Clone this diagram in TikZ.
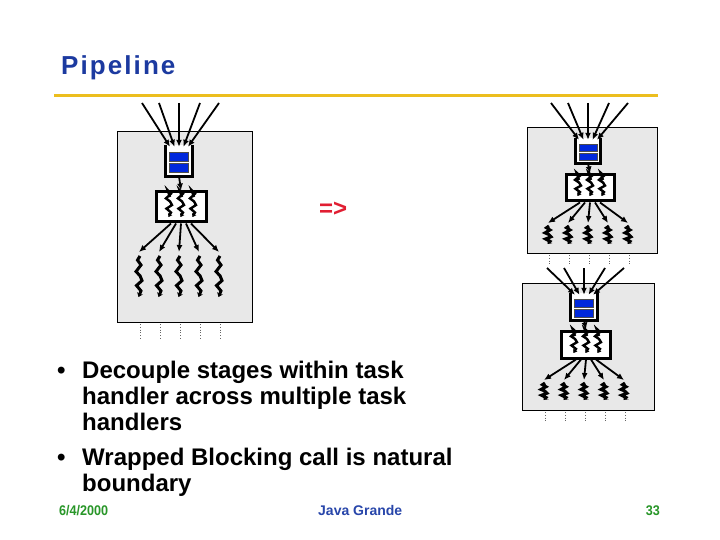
\documentclass[tikz,border=0pt]{standalone}
\usepackage{fontspec}
\setmainfont{Liberation Sans}
\usetikzlibrary{arrows.meta}
\definecolor{titleblue}{RGB}{28,58,160}
\definecolor{rulegold}{RGB}{236,190,30}
\definecolor{panelgrey}{RGB}{232,232,232}
\definecolor{qblue}{RGB}{0,40,220}
\definecolor{arrowred}{RGB}{225,30,50}
\definecolor{footgreen}{RGB}{40,150,40}
\definecolor{footblue}{RGB}{40,70,170}
\tikzset{
  panelbox/.style={fill=panelgrey, draw=black, line width=0.8pt},
  qnode/.style={fill=white, draw=none, inner sep=0pt},
  qwall/.style={line width=3pt, line join=miter},
  qcell/.style={fill=qblue, draw=black!70, line width=0.6pt},
  tbox/.style={fill=white, draw=black, line width=3pt, inner sep=0pt},
  arr/.style={line width=1.8pt, -{Latex[length=7pt,width=6pt]}},
  threadline/.style={line width=3pt, line join=miter, -{Stealth[length=4pt,width=6pt]}},
  minithread/.style={line width=2.4pt, line join=miter, -{Stealth[length=3.5pt,width=5pt]}},
  dotline/.style={dotted, line width=0.8pt, draw=black!60}
}
% thread squiggle: #1 style, #2 x, #3 top y, #4 length
\newcommand\threadsq[4]{%
  \draw[#1] ({#2+1},{#3}) -- ({#2-1.5},{#3+0.1*#4}) -- ({#2+2},{#3+0.22*#4})
    -- ({#2-3},{#3+0.38*#4}) -- ({#2+1},{#3+0.48*#4}) -- ({#2+3},{#3+0.6*#4})
    -- ({#2-2.5},{#3+0.72*#4}) -- ({#2+2},{#3+0.85*#4}) -- ({#2-0.5},{#3+#4});}
\newcommand\drawpanel[1]{%
  \draw[panelbox] (\bxa,\bya) rectangle (\bxb,\byb);
  \pgfmathsetmacro\qh{\qb-\qt}
  \pgfmathsetmacro\th{\tb-\tt}
  \node[qnode, minimum width=\qw pt, minimum height=\qh pt] (#1q) at ({\cx},{(\qt+\qb)/2}) {};
  \draw[qwall] (#1q.north west) -- (#1q.south west) -- (#1q.south east) -- (#1q.north east);
  \draw[qcell] ({\cx-\qw/2+3.5},{\qt+0.24*\qh}) rectangle ({\cx+\qw/2-3.5},{\qt+0.54*\qh});
  \draw[qcell] ({\cx-\qw/2+3.5},{\qt+0.60*\qh}) rectangle ({\cx+\qw/2-3.5},{\qt+0.89*\qh});
  \node[tbox, minimum width=\tw pt, minimum height=\th pt] (#1t) at ({\cx+2},{(\tt+\tb)/2}) {};
  \foreach \o in {-12,0,12} {\threadsq{minithread}{\cx+2+\o}{\tt+5}{\th-10}}
  \draw[arr] (#1q.south) -- (#1t.north);
  \foreach \o [count=\i] in {-37,-20,0,21,40} {
    \coordinate (#1in\i) at ({\cx+\o},\iny);
    \draw[arr] (#1in\i) -- ([xshift={(\i-3)*4.5pt}, yshift=-2pt]#1q.north);
  }
  \foreach \o [count=\i] in {-40,-20,0,20,40} {
    \coordinate (#1th\i) at ({\cx+\o},\fy);
    \draw[arr] ([xshift={(\i-3)*5pt}]#1t.south) -- (#1th\i);
    \threadsq{threadline}{\cx+\o}{\thtop}{\thl}
    \draw[dotline] ({\cx+\o+1.5},\dta) -- ({\cx+\o+1.5},\dtb);
  }
}
\begin{document}
\begin{tikzpicture}[x=1pt,y=-1pt]
\useasboundingbox (0,0) rectangle (720,540);
\fill[white] (0,0) rectangle (720,540);
% title
\node[anchor=base west, inner sep=0pt, text=titleblue, font=\fontsize{26}{30}\selectfont\bfseries] (title) at (61,75) {\addfontfeatures{LetterSpace=8}Pipeline};
\draw[line width=3pt, rulegold] (54,96) -- (658,96);
% left panel
\def\cx{179}\def\bxa{117}\def\bya{131}\def\bxb{252}\def\byb{322}
\def\qw{26}\def\qt{145}\def\qb{176}\def\tw{50}\def\tt{192}\def\tb{222}
\def\fy{252}\def\thtop{256}\def\thl{41}\def\dta{324}\def\dtb{340}\def\iny{103}
\drawpanel{L}
% top right panel
\def\cx{588}\def\bxa{527}\def\bya{127}\def\bxb{657}\def\byb{253}
\def\qw{25}\def\qt{138}\def\qb{163}\def\tw{48}\def\tt{175}\def\tb{201}
\def\fy{223}\def\thtop{226}\def\thl{18}\def\dta{255}\def\dtb{265}\def\iny{103}
\drawpanel{A}
% bottom right panel
\def\cx{584}\def\bxa{522}\def\bya{283}\def\bxb{654}\def\byb{410}
\def\qw{26}\def\qt{293}\def\qb{320}\def\tw{49}\def\tt{331}\def\tb{358}
\def\fy{380}\def\thtop{383}\def\thl{17}\def\dta{412}\def\dtb{422}\def\iny{268}
\drawpanel{B}
% arrow sign
\node[anchor=base west, inner sep=0pt, text=arrowred, font=\fontsize{24}{28}\selectfont\bfseries] (imp) at (319,216) {=>};
% bullets
\node[anchor=base west, inner sep=0pt, font=\fontsize{24}{26}\selectfont\bfseries] (b1) at (57,378) {•};
\node[anchor=base west, inner sep=0pt, align=left, font=\fontsize{24}{26}\selectfont\bfseries] (t1) at (82,430) {Decouple stages within task\\handler across multiple task\\handlers};
\node[anchor=base west, inner sep=0pt, font=\fontsize{24}{26}\selectfont\bfseries] (b2) at (57,465) {•};
\node[anchor=base west, inner sep=0pt, align=left, font=\fontsize{24}{26}\selectfont\bfseries] (t2) at (82,491) {Wrapped Blocking call is natural\\boundary};
% footer
\node[anchor=base west, inner sep=0pt, text=footgreen, font=\fontsize{14}{16}\selectfont\bfseries, xscale=0.9] (date) at (59,515) {6/4/2000};
\node[anchor=base west, inner sep=0pt, text=footblue, font=\fontsize{14}{16}\selectfont\bfseries] (conf) at (318,515) {Java Grande};
\node[anchor=base east, inner sep=0pt, text=footgreen, font=\fontsize{14}{16}\selectfont\bfseries, xscale=0.9] (page) at (660,515) {33};
\end{tikzpicture}
\end{document}
